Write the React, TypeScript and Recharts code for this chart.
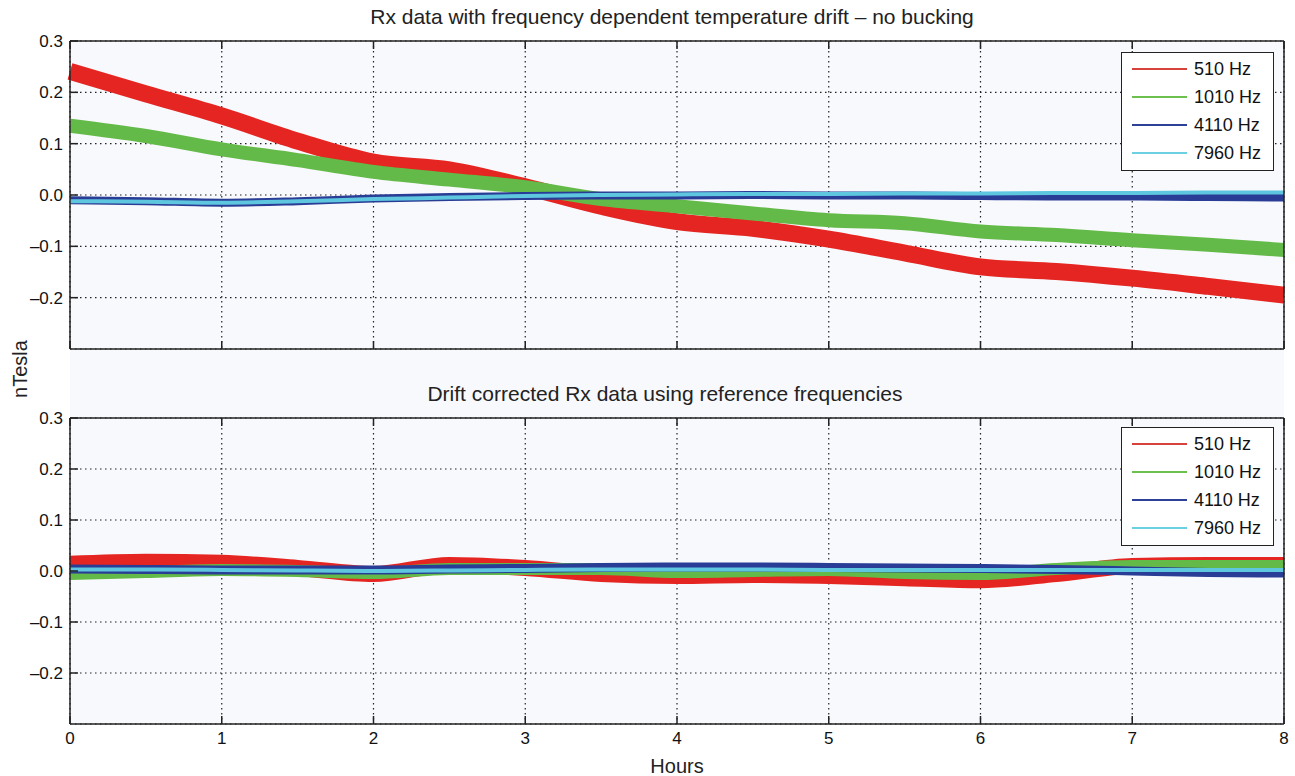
import React from "react";
import { LineChart, Line, XAxis, YAxis, CartesianGrid, Legend } from "recharts";

// hours sampled every half hour
const HOURS = [0, 0.5, 1, 1.5, 2, 2.5, 3, 3.5, 4, 4.5, 5, 5.5, 6, 6.5, 7, 7.5, 8];
const X_TICKS = [0, 1, 2, 3, 4, 5, 6, 7, 8];
const Y_TICKS = [-0.2, -0.1, 0, 0.1, 0.2, 0.3];

// top panel: raw Rx data (nT), centre of each noisy band
const RAW_510 = [0.241, 0.197, 0.154, 0.105, 0.064, 0.049, 0.016, -0.022, -0.052, -0.065, -0.086, -0.113, -0.14, -0.149, -0.162, -0.178, -0.195];
const RAW_1010 = [0.135, 0.115, 0.089, 0.068, 0.045, 0.03, 0.015, -0.008, -0.022, -0.036, -0.049, -0.055, -0.071, -0.078, -0.088, -0.097, -0.107];
const RAW_4110 = [-0.01, -0.012, -0.015, -0.012, -0.007, -0.004, -0.002, -0.001, -0.001, 0, -0.001, -0.001, -0.002, -0.003, -0.003, -0.004, -0.005];
const RAW_7960 = [-0.012, -0.013, -0.015, -0.012, -0.008, -0.005, -0.002, 0, 0.001, 0.002, 0.002, 0.003, 0.003, 0.004, 0.004, 0.005, 0.005];

// bottom panel: drift corrected
const COR_510 = [0.014, 0.018, 0.016, 0.006, -0.006, 0.012, 0.006, -0.006, -0.01, -0.008, -0.01, -0.014, -0.018, -0.006, 0.01, 0.012, 0.012];
const COR_1010 = [-0.006, -0.002, 0.002, 0, -0.004, 0.004, 0.004, 0.004, -0.002, 0, 0.002, -0.004, -0.006, 0.004, 0.01, 0.01, 0.01];
const COR_4110 = [0.004, 0.003, 0.002, 0.002, 0.002, 0.004, 0.005, 0.007, 0.008, 0.008, 0.007, 0.006, 0.005, 0.003, 0, -0.003, -0.004];
const COR_7960 = [0.003, 0.003, 0.002, 0.001, 0, 0.001, 0.002, 0.003, 0.003, 0.003, 0.002, 0.002, 0.002, 0.002, 0.002, 0.002, 0.002];

const SERIES = [
  { key: "f510", name: "510 Hz", color: "#e52521", legend: "#d8423c" },
  { key: "f1010", name: "1010 Hz", color: "#63ba48", legend: "#6cc04e" },
  { key: "f4110", name: "4110 Hz", color: "#2a3d96", legend: "#2d4197" },
  { key: "f7960", name: "7960 Hz", color: "#5ec6df", legend: "#6ccfe2" },
];

const rawData = HOURS.map((h, i) => ({
  h,
  f510: RAW_510[i],
  f1010: RAW_1010[i],
  f4110: RAW_4110[i],
  f7960: RAW_7960[i],
}));

const corData = HOURS.map((h, i) => ({
  h,
  f510: COR_510[i],
  f1010: COR_1010[i],
  f4110: COR_4110[i],
  f7960: COR_7960[i],
}));

const W = 1295;
const FRAME = { stroke: "#222", strokeWidth: 1.5 };

const fmtY = (v: number) => {
  const s = Math.abs(v).toFixed(1);
  return v < -1e-9 ? "\u2013" + s : s;
};

function LegendBox() {
  return (
    <div
      style={{
        width: 153,
        height: 119,
        boxSizing: "border-box",
        border: "1.5px solid #222",
        background: "#fff",
        paddingTop: 2,
      }}
    >
      {SERIES.map((s) => (
        <div key={s.key} style={{ height: 28, display: "flex", alignItems: "center" }}>
          <svg width={66} height={4} style={{ display: "block" }}>
            <line x1={10} x2={65} y1={2} y2={2} stroke={s.legend} strokeWidth={2} />
          </svg>
          <span style={{ marginLeft: 6, fontSize: 18, color: "#111" }}>{s.name}</span>
        </div>
      ))}
    </div>
  );
}

interface PanelProps {
  data: Array<Record<string, number>>;
  top: number;
  height: number;
  bottomAxis: number;
  showLabels: boolean;
  legendTop: number;
  widths: number[];
}

function Panel({ data, top, height, bottomAxis, showLabels, legendTop, widths }: PanelProps) {
  return (
    <div style={{ position: "absolute", left: 0, top }}>
      <LineChart width={W} height={height} data={data} margin={{ top: 0, right: 0, bottom: 0, left: 0 }}>
        <CartesianGrid stroke="#222" strokeDasharray="1.5 3.5" strokeWidth={1.2} />
        <XAxis
          dataKey="h"
          type="number"
          domain={[0, 8]}
          ticks={X_TICKS}
          interval={0}
          height={bottomAxis}
          tickSize={-8}
          tickMargin={16}
          tickFormatter={(v) => (showLabels ? String(v) : "")}
          tick={{ fill: "#111", fontSize: 17 }}
          axisLine={FRAME}
          tickLine={FRAME}
        />
        <XAxis
          xAxisId="t"
          orientation="top"
          dataKey="h"
          type="number"
          domain={[0, 8]}
          ticks={X_TICKS}
          interval={0}
          height={41}
          tickSize={-8}
          tickFormatter={() => ""}
          axisLine={FRAME}
          tickLine={FRAME}
        />
        <YAxis
          type="number"
          domain={[-0.3, 0.3]}
          ticks={Y_TICKS}
          interval={0}
          width={70}
          tickSize={-8}
          tickMargin={15}
          tickFormatter={fmtY}
          tick={{ fill: "#111", fontSize: 17 }}
          axisLine={FRAME}
          tickLine={FRAME}
        />
        <YAxis
          yAxisId="r"
          orientation="right"
          type="number"
          domain={[-0.3, 0.3]}
          ticks={Y_TICKS}
          interval={0}
          width={11}
          tickSize={-8}
          tickFormatter={() => ""}
          axisLine={FRAME}
          tickLine={FRAME}
        />
        {SERIES.map((s, i) => (
          <Line
            key={s.key}
            type="monotone"
            dataKey={s.key}
            name={s.name}
            stroke={s.color}
            strokeWidth={widths[i]}
            strokeLinecap="butt"
            dot={false}
            activeDot={false}
            isAnimationActive={false}
          />
        ))}
        <Legend
          layout="vertical"
          align="center"
          verticalAlign="middle"
          content={() => <LegendBox />}
          wrapperStyle={{ left: 1121, top: legendTop, width: 153, height: 119 }}
        />
      </LineChart>
    </div>
  );
}

export default function App() {
  return (
    <div
      style={{
        position: "absolute",
        left: 0,
        top: 0,
        width: W,
        height: 776,
        background: "#fff",
        fontFamily: "'Liberation Sans', Arial, sans-serif",
        overflow: "hidden",
      }}
    >
      <div style={{ position: "absolute", left: 70, top: 41, width: 1214, height: 683, background: "#f8f9fc" }} />
      <svg width={W} height={776} style={{ position: "absolute", left: 0, top: 0 }}>
        <text x={672} y={24} fontSize={21} textAnchor="middle" fill="#222">
          Rx data with frequency dependent temperature drift – no bucking
        </text>
        <text x={665} y={401} fontSize={21} textAnchor="middle" fill="#222">
          Drift corrected Rx data using reference frequencies
        </text>
        <text x={677} y={773} fontSize={20} textAnchor="middle" fill="#222">
          Hours
        </text>
        <text x={27} y={369} fontSize={20} textAnchor="middle" fill="#222" transform="rotate(-90 27 369)">
          nTesla
        </text>
      </svg>
      <Panel data={rawData} top={0} height={360} bottomAxis={11} showLabels={false} legendTop={52} widths={[17, 14, 8, 4]} />
      <Panel data={corData} top={377} height={399} bottomAxis={52} showLabels legendTop={50} widths={[16, 12, 9, 4]} />
    </div>
  );
}
